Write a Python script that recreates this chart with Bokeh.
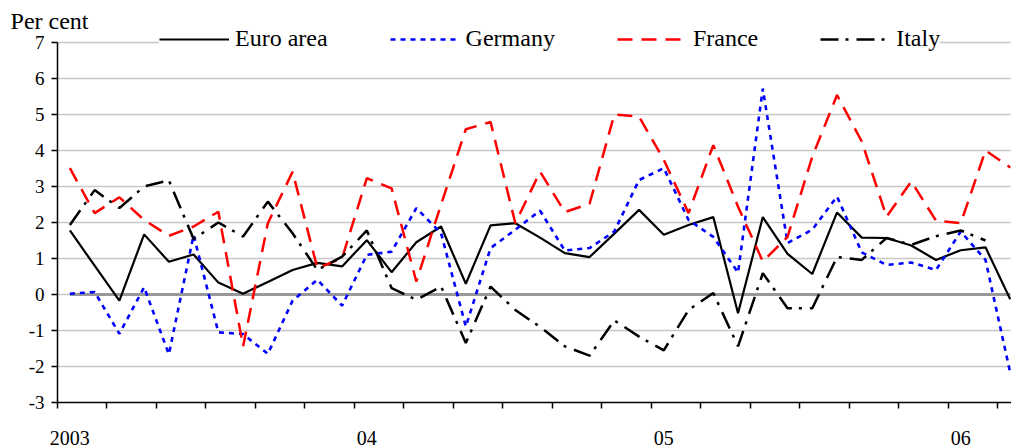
from bokeh.plotting import figure
from bokeh.models import Range1d, FixedTicker, Legend, LegendItem, LinearAxis
from bokeh.embed import file_html
from bokeh.resources import INLINE

# Monthly observations, Jan 2003 - Mar 2006 (per cent)
month_labels = [f"{y}-{m:02d}" for y in (2003, 2004, 2005, 2006) for m in range(1, 13)][:39]
year_labels = ["2003", "04", "05", "06"]
y_ticks = [-3, -2, -1, 0, 1, 2, 3, 4, 5, 6, 7]
unit_label = "Per cent"

euro_area = [1.78, 0.80, -0.17, 1.67, 0.91, 1.11, 0.33, 0.02, 0.35, 0.68, 0.88, 0.78,
             1.51, 0.62, 1.45, 1.89, 0.30, 1.92, 1.98, 1.58, 1.15, 1.04, 1.69, 2.35,
             1.66, 1.93, 2.15, -0.52, 2.15, 1.13, 0.57, 2.28, 1.58, 1.57, 1.36, 0.96,
             1.23, 1.31, -0.13]
germany = [0.02, 0.07, -1.09, 0.20, -1.66, 1.65, -1.05, -1.10, -1.65, -0.17, 0.41, -0.31,
           1.10, 1.19, 2.40, 1.70, -0.89, 1.29, 1.80, 2.33, 1.22, 1.29, 1.75, 3.18,
           3.51, 2.07, 1.60, 0.61, 5.72, 1.43, 1.80, 2.72, 1.17, 0.82, 0.89, 0.68,
           1.75, 0.96, -2.18]
france = [3.51, 2.26, 2.70, 2.07, 1.63, 1.89, 2.30, -1.44, 1.98, 3.41, 0.73, 1.01,
          3.23, 2.95, 0.36, 2.50, 4.59, 4.79, 1.98, 3.41, 2.29, 2.52, 5.00, 4.94,
          3.74, 2.26, 4.15, 2.44, 0.92, 1.60, 3.83, 5.54, 4.25, 2.16, 3.14, 2.05,
          1.98, 4.00, 3.53]
italy = [1.93, 2.90, 2.40, 3.00, 3.17, 1.54, 2.00, 1.61, 2.58, 1.70, 0.68, 1.05,
         1.78, 0.18, -0.15, 0.22, -1.35, 0.22, -0.43, -0.90, -1.44, -1.70, -0.72, -1.17,
         -1.55, -0.43, 0.04, -1.44, 0.59, -0.38, -0.38, 1.04, 0.96, 1.57, 1.38, 1.62,
         1.78, 1.50]

FONT = "Liberation Serif"
n = len(month_labels)
x = [i + 0.5 for i in range(n)]

# frame reaches the top of the canvas so the legend is not clipped;
# axis line and grid are bounded to the -3..7 band
y_top = 7 + 42 / 36.0
p = figure(width=1011, height=447, output_backend="svg", toolbar_location=None,
           x_range=Range1d(0, 38.55), y_range=Range1d(-3, y_top),
           min_border_left=57, min_border_right=0, min_border_top=0, min_border_bottom=45)
p.outline_line_color = None
p.background_fill_color = "white"
p.border_fill_color = "white"

# y axis
yt = FixedTicker(ticks=y_ticks)
p.yaxis.ticker = yt
p.yaxis.bounds = (y_ticks[0], y_ticks[-1])
p.yaxis.major_label_overrides = {v: str(v) for v in y_ticks}
p.ygrid.ticker = yt
p.ygrid.grid_line_color = "#c8c8c8"
p.ygrid.grid_line_width = 1.5
p.xgrid.visible = False
p.yaxis.axis_line_color = "black"
p.yaxis.axis_line_width = 1.5
p.yaxis.major_tick_out = 6
p.yaxis.major_tick_in = 0
p.yaxis.major_tick_line_width = 1.5
p.yaxis.minor_tick_line_color = None
p.yaxis.major_label_standoff = 7
p.yaxis.major_label_text_font = FONT
p.yaxis.major_label_text_font_size = "19px"
p.yaxis.major_label_text_color = "black"

# "Per cent" unit label, carried by a bare helper axis at the top-left
unit_pos = 7.6
unit_axis = LinearAxis(ticker=FixedTicker(ticks=[unit_pos]),
                       major_label_overrides={unit_pos: unit_label},
                       axis_line_color=None, major_tick_line_color=None,
                       minor_tick_line_color=None, major_tick_out=0, major_tick_in=0,
                       major_label_standoff=-63, major_label_text_font=FONT,
                       major_label_text_font_size="24px", major_label_text_color="black")
p.add_layout(unit_axis, "left")

# x axis: year labels at January, small ticks every two months
year_pos = [x[i] for i in range(0, n, 12)]
p.xaxis.ticker = FixedTicker(ticks=year_pos, minor_ticks=list(range(0, 39, 2)))
p.xaxis.major_label_overrides = {pos: lab for pos, lab in zip(year_pos, year_labels)}
p.xaxis.major_tick_line_color = None
p.xaxis.major_tick_out = 0
p.xaxis.major_tick_in = 0
p.xaxis.minor_tick_out = 6
p.xaxis.minor_tick_in = 0
p.xaxis.minor_tick_line_color = "black"
p.xaxis.minor_tick_line_width = 1.5
p.xaxis.axis_line_color = "black"
p.xaxis.axis_line_width = 1.5
p.xaxis.major_label_standoff = 22
p.xaxis.major_label_text_font = FONT
p.xaxis.major_label_text_font_size = "20px"
p.xaxis.major_label_text_color = "black"

# zero reference line
p.segment(x0=x[0], x1=x[-1], y0=0, y1=0, line_color="#999999", line_width=3)

r_euro = p.line(x, euro_area, line_color="black", line_width=2.2)
r_ger = p.line(x, germany, line_color="#0000ff", line_width=2.6, line_dash="5 5")
r_fra = p.line(x, france, line_color="#ff0000", line_width=2.5, line_dash="15 9")
r_ita = p.line(x[:len(italy)], italy, line_color="black", line_width=2.5, line_dash="18 7 3 8")

legend = Legend(items=[LegendItem(label="Euro area", renderers=[r_euro]),
                       LegendItem(label="Germany", renderers=[r_ger]),
                       LegendItem(label="France", renderers=[r_fra]),
                       LegendItem(label="Italy", renderers=[r_ita])],
                orientation="horizontal", location=(102, 350),
                label_text_font=FONT, label_text_font_size="24px", label_text_color="black",
                glyph_width=70, glyph_height=20, label_standoff=6, spacing=62,
                padding=22, margin=0, border_line_color=None,
                background_fill_color="white", background_fill_alpha=1.0)
p.add_layout(legend, "center")

open("out.html", "w").write(file_html(p, INLINE))
